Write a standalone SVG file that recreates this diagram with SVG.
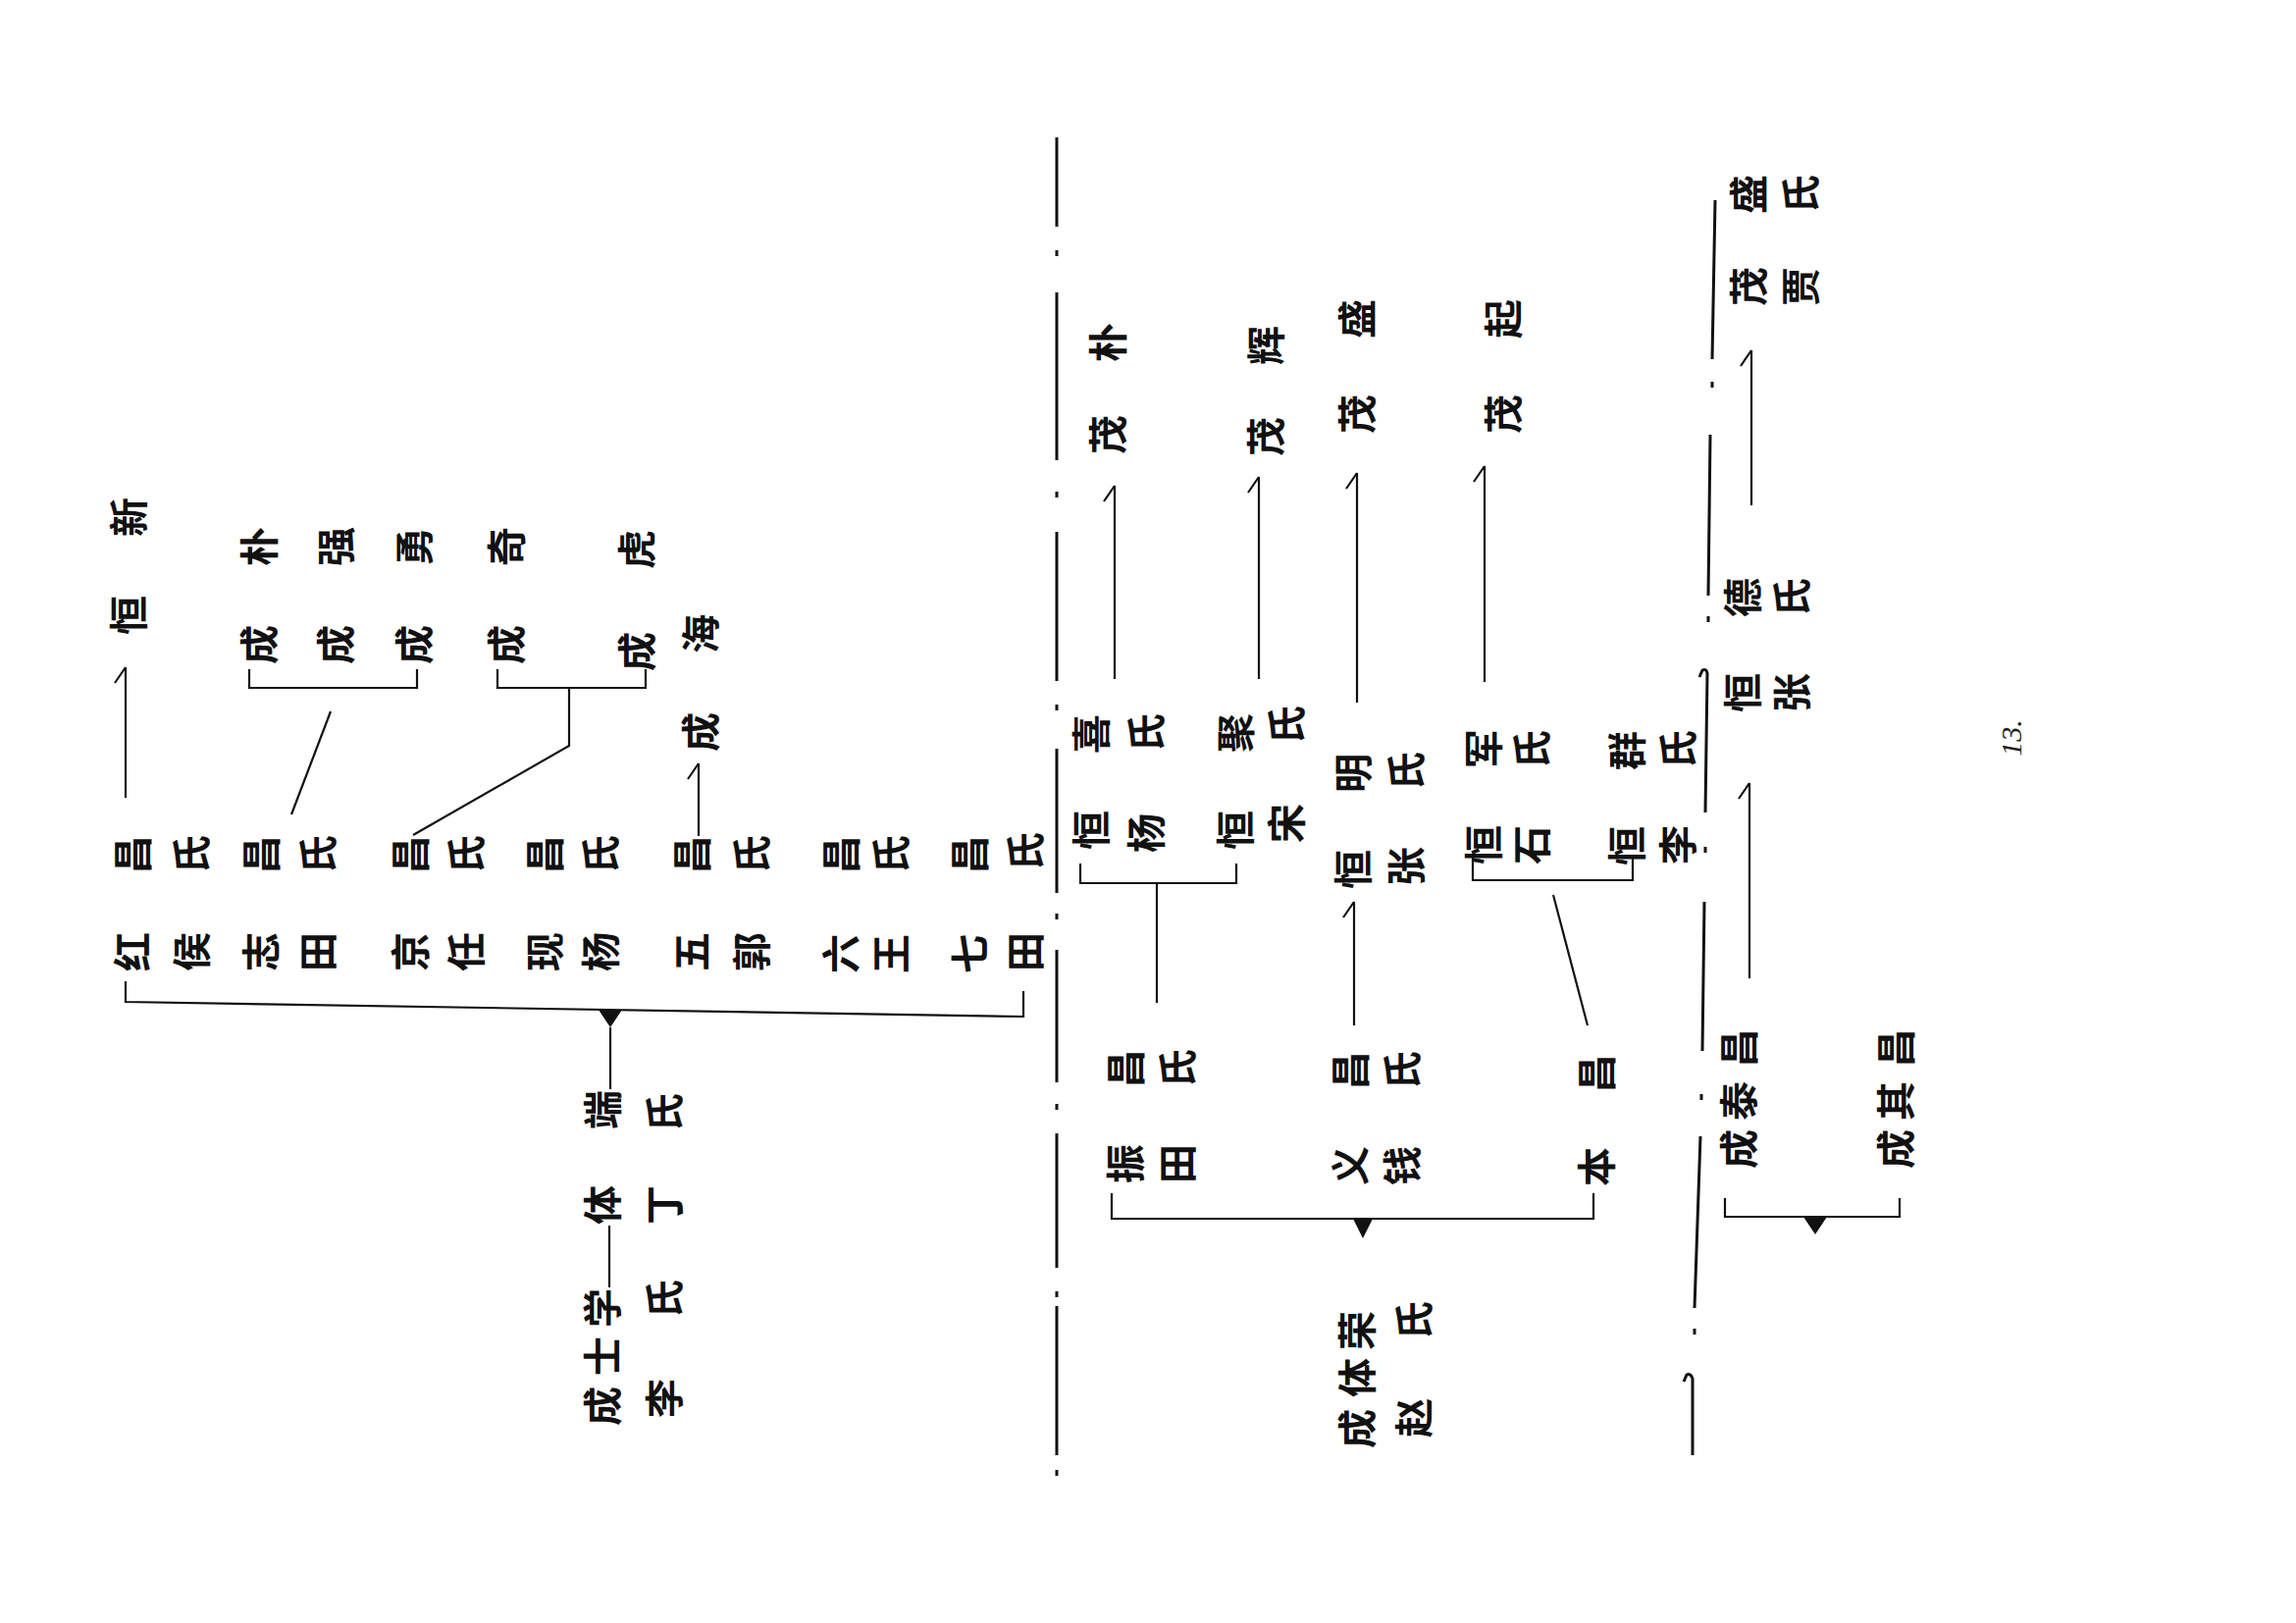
<svg xmlns="http://www.w3.org/2000/svg" width="2340" height="1654" viewBox="0 0 2340 1654">
<style>
.t{font-family:"Noto Sans CJK SC","Noto Sans CJK TC",sans-serif;font-size:40px;font-weight:700;fill:#111;text-anchor:middle;dominant-baseline:central}
.pg{font-family:"Liberation Serif",serif;font-size:30px;font-style:italic;fill:#222;text-anchor:middle;dominant-baseline:central}
.c{stroke:#111;stroke-width:2.2;fill:none}
.r{stroke:#111;stroke-width:3;fill:none}
.tri{fill:#111}
.dot{fill:#111}
</style>
<defs>
<marker id="hook" markerUnits="userSpaceOnUse" orient="auto" overflow="visible" markerWidth="1" markerHeight="1" refX="0" refY="0">
<path d="M0,0 L-16,-11" stroke="#111" stroke-width="2.2" fill="none"/>
</marker>
</defs>
<rect width="2340" height="1654" fill="#fff"/>

<!-- left section nodes -->
<g id="n-hongchang"><text class="t" transform="rotate(-90)" x="-970 -871" y="133">红昌</text><text class="t" transform="rotate(-90)" x="-970 -871" y="193">侯氏</text></g>
<g id="n-hengxin"><text class="t" transform="rotate(-90)" x="-627 -527" y="129">恒新</text></g>
<g id="n-zhichang"><text class="t" transform="rotate(-90)" x="-970 -871" y="264">志昌</text><text class="t" transform="rotate(-90)" x="-970 -871" y="322">田氏</text></g>
<g id="n-chengpu"><text class="t" transform="rotate(-90)" x="-657 -557" y="262">成朴</text></g>
<g id="n-chengqiang"><text class="t" transform="rotate(-90)" x="-657 -557" y="340">成强</text></g>
<g id="n-chengyong"><text class="t" transform="rotate(-90)" x="-657 -557" y="420">成勇</text></g>
<g id="n-jingchang"><text class="t" transform="rotate(-90)" x="-970 -871" y="416">京昌</text><text class="t" transform="rotate(-90)" x="-970 -871" y="473">任氏</text></g>
<g id="n-chengqi"><text class="t" transform="rotate(-90)" x="-657 -557" y="514">成奇</text></g>
<g id="n-chenghu"><text class="t" transform="rotate(-90)" x="-664 -560" y="647">成虎</text></g>
<g id="n-xianchang"><text class="t" transform="rotate(-90)" x="-970 -871" y="553">现昌</text><text class="t" transform="rotate(-90)" x="-970 -871" y="610">杨氏</text></g>
<g id="n-wuchang"><text class="t" transform="rotate(-90)" x="-970 -871" y="703">五昌</text><text class="t" transform="rotate(-90)" x="-970 -871" y="764">郭氏</text></g>
<g id="n-chenghai"><text class="t" transform="rotate(-90)" x="-746 -646" y="712">成海</text></g>
<g id="n-liuchang"><text class="t" transform="rotate(-90)" x="-972 -871" y="855">六昌</text><text class="t" transform="rotate(-90)" x="-972 -871" y="906">王氏</text></g>
<g id="n-qichang"><text class="t" transform="rotate(-90)" x="-972 -871" y="986">七昌</text><text class="t" transform="rotate(-90)" x="-970 -868" y="1043">田氏</text></g>
<g id="n-tiduan"><text class="t" transform="rotate(-90)" x="-1228 -1131" y="612">体端</text><text class="t" transform="rotate(-90)" x="-1228 -1134" y="675">丁氏</text></g>
<g id="n-shixue"><text class="t" transform="rotate(-90)" x="-1433 -1382 -1333" y="612">成士学</text><text class="t" transform="rotate(-90)" x="-1425 -1324" y="675">李氏</text></g>

<!-- middle section nodes -->
<g id="n-hengxi"><text class="t" transform="rotate(-90)" x="-846 -748" y="1110">恒喜</text><text class="t" transform="rotate(-90)" x="-849 -747" y="1166">杨氏</text></g>
<g id="n-maopu"><text class="t" transform="rotate(-90)" x="-443 -349" y="1127">茂朴</text></g>
<g id="n-hengju"><text class="t" transform="rotate(-90)" x="-846 -747" y="1257">恒聚</text><text class="t" transform="rotate(-90)" x="-839 -739" y="1309">宋氏</text></g>
<g id="n-maohui"><text class="t" transform="rotate(-90)" x="-445 -352" y="1288">茂辉</text></g>
<g id="n-hengming"><text class="t" transform="rotate(-90)" x="-886 -788" y="1377">恒明</text><text class="t" transform="rotate(-90)" x="-883 -786" y="1431">张氏</text></g>
<g id="n-maosheng1"><text class="t" transform="rotate(-90)" x="-422 -325" y="1381">茂盛</text></g>
<g id="n-hengjun"><text class="t" transform="rotate(-90)" x="-861 -763" y="1510">恒军</text><text class="t" transform="rotate(-90)" x="-861 -764" y="1559">石氏</text></g>
<g id="n-maoqi"><text class="t" transform="rotate(-90)" x="-422 -325" y="1530">茂起</text></g>
<g id="n-hengqun"><text class="t" transform="rotate(-90)" x="-862 -765" y="1656">恒群</text><text class="t" transform="rotate(-90)" x="-861 -764" y="1708">李氏</text></g>
<g id="n-zhenchang"><text class="t" transform="rotate(-90)" x="-1186 -1089" y="1145">振昌</text><text class="t" transform="rotate(-90)" x="-1186 -1089" y="1198">田氏</text></g>
<g id="n-yichang"><text class="t" transform="rotate(-90)" x="-1188 -1091" y="1374">义昌</text><text class="t" transform="rotate(-90)" x="-1188 -1091" y="1427">钱氏</text></g>
<g id="n-benchang"><text class="t" transform="rotate(-90)" x="-1189 -1094" y="1625">本昌</text></g>
<g id="n-tirong"><text class="t" transform="rotate(-90)" x="-1456 -1404 -1356" y="1381">成体荣</text><text class="t" transform="rotate(-90)" x="-1445 -1346" y="1439">赵氏</text></g>

<!-- right section nodes -->
<g id="n-maosheng2"><text class="t" transform="rotate(-90)" x="-292 -198" y="1780">茂盛</text><text class="t" transform="rotate(-90)" x="-292 -198" y="1833">贾氏</text></g>
<g id="n-hengde"><text class="t" transform="rotate(-90)" x="-706 -609" y="1774">恒德</text><text class="t" transform="rotate(-90)" x="-706 -609" y="1824">张氏</text></g>
<g id="n-taichang"><text class="t" transform="rotate(-90)" x="-1171 -1122 -1068" y="1770">成泰昌</text></g>
<g id="n-qichang2"><text class="t" transform="rotate(-90)" x="-1171 -1122 -1068" y="1930">成其昌</text></g>

<text class="pg" transform="rotate(-90)" x="-752" y="2049">13.</text>

<g id="connectors">
<!-- left -->
<path class="c" d="M128,813 L128,680" marker-end="url(#hook)"/>
<path class="c" d="M297,830 L337,725"/>
<path class="c" d="M254,682 L254,701 L425,701 L425,682"/>
<path class="c" d="M507,682 L507,701 L658,701 L658,682"/>
<path class="c" d="M580,701 L580,760 L421,851"/>
<path class="c" d="M712,852 L712,778" marker-end="url(#hook)"/>
<path class="c" d="M128,1000 L128,1021 L1043,1036 L1043,1010"/>
<polygon class="tri" points="610,1029 634,1029 622,1047"/>
<path class="c" d="M622,1047 L622,1110"/>
<path class="c" d="M621,1249 L621,1312"/>
<!-- middle -->
<path class="c" d="M1136,692 L1136,495" marker-end="url(#hook)"/>
<path class="c" d="M1101,880 L1101,900 L1260,900 L1260,880"/>
<path class="c" d="M1179,900 L1179,1022"/>
<path class="c" d="M1283,692 L1283,486" marker-end="url(#hook)"/>
<path class="c" d="M1383,716 L1383,482" marker-end="url(#hook)"/>
<path class="c" d="M1380,1045 L1380,919" marker-end="url(#hook)"/>
<path class="c" d="M1513,695 L1513,475" marker-end="url(#hook)"/>
<path class="c" d="M1501,873 L1501,897 L1664,897 L1664,873"/>
<path class="c" d="M1583,912 L1618,1045"/>
<path class="c" d="M1133,1216 L1133,1242 L1624,1242 L1624,1216"/>
<polygon class="tri" points="1379,1242 1399,1242 1389,1262"/>
<!-- right -->
<path class="c" d="M1785,515 L1785,357" marker-end="url(#hook)"/>
<path class="c" d="M1783,997 L1783,798" marker-end="url(#hook)"/>
<path class="c" d="M1758,1221 L1758,1240 L1936,1240 L1936,1221"/>
<polygon class="tri" points="1838,1240 1862,1240 1850,1258"/>
</g>

<g id="rules">
<path class="r" d="M1077,140 V231 M1077,298 V469 M1077,542 V694 M1077,763 V910 M1077,968 V1103 M1077,1155 V1292 M1077,1331 V1483"/>
<rect class="dot" x="1075.5" y="255" width="3" height="6"/>
<rect class="dot" x="1075.5" y="501" width="3" height="6"/>
<rect class="dot" x="1075.5" y="718" width="3" height="6"/>
<rect class="dot" x="1075.5" y="931" width="3" height="6"/>
<rect class="dot" x="1075.5" y="1125" width="3" height="6"/>
<rect class="dot" x="1075.5" y="1316" width="3" height="6"/>
<rect class="dot" x="1075.5" y="1498" width="3" height="6"/>
<path class="r" d="M1748,204 L1745,366 M1743,443 L1741,607 M1737,919 L1735,1071 M1733,1158 L1727,1333"/>
<path class="r" d="M1738,828 L1740,686 Q1739,681 1735,683 L1732,690"/>
<path class="r" d="M1725,1483 L1725,1405 Q1723,1399 1719,1401 L1716,1408"/>
<rect class="dot" x="1743.5" y="389" width="3" height="6"/>
<rect class="dot" x="1739.5" y="628" width="3" height="6"/>
<rect class="dot" x="1736.5" y="863" width="3" height="6"/>
<rect class="dot" x="1732.5" y="1115" width="3" height="6"/>
<rect class="dot" x="1725.5" y="1354" width="3" height="6"/>
</g>
</svg>
